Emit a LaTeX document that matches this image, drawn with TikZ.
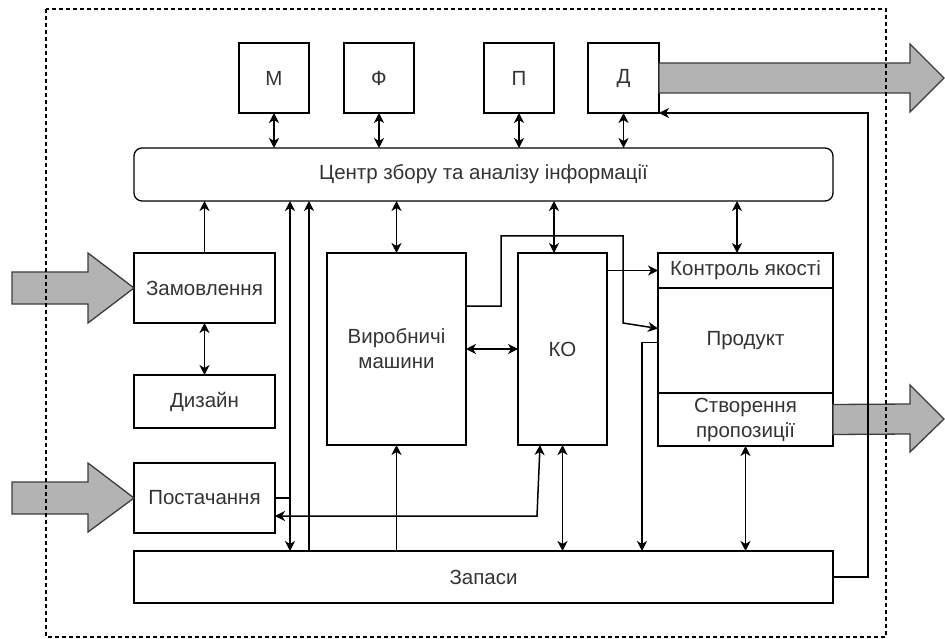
\documentclass[tikz,border=0pt]{standalone}
\usepackage{fontspec}
\setmainfont{Liberation Sans}
\usetikzlibrary{arrows.meta,calc}
\definecolor{txt}{RGB}{51,51,51}
\definecolor{bigfill}{RGB}{179,179,179}
\definecolor{bigdraw}{RGB}{60,60,60}
\begin{document}
\begin{tikzpicture}[x=1pt,y=-1pt,
  box/.style={draw, line width=1.3pt, inner sep=0pt, outer sep=0pt, text=txt,
    font=\fontsize{20.5}{25}\selectfont, align=center},
  tip/.tip={Stealth[length=10pt,width=10pt,inset=3pt]},
  conn/.style={line width=1.5pt, -tip},
  bi/.style={line width=1.5pt, tip-tip},
  bigarrow/.style={draw=bigdraw, fill=bigfill, line width=1.3pt, line join=miter},
  frame/.style={line width=1.1pt, dash pattern=on 4pt off 3pt}
]
\useasboundingbox (0,0) rectangle (945,639);

% helper positions
\coordinate (x290) at (290,0);
\coordinate (x309) at (309,0);
\coordinate (x554) at (554,0);
\coordinate (x737) at (737,0);
\coordinate (x623) at (623,236);
\coordinate (x501) at (501,0);
\coordinate (x868) at (868,0);

% top boxes
\node[box, minimum width=70pt, minimum height=70pt] (M) at (274,78) {М};
\node[box, minimum width=70pt, minimum height=70pt] (F) at (379,78) {Ф};
\node[box, minimum width=70pt, minimum height=70pt] (P) at (519,78) {П};
\node[box, minimum width=71pt, minimum height=70pt] (D) at (623.5,78) {Д};

% centre
\node[box, rounded corners=8pt, minimum width=699pt, minimum height=53pt] (cen) at (483.5,174.5)
  {Центр збору та аналізу інформації};

% left column
\node[box, minimum width=141pt, minimum height=70pt] (zam) at (204.5,288) {Замовлення};
\node[box, minimum width=141pt, minimum height=53pt] (diz) at (204.5,401.5) {Дизайн};
\node[box, minimum width=141pt, minimum height=70pt] (post) at (204.5,498) {Постачання};

% bottom
\node[box, minimum width=699pt, minimum height=52pt] (zap) at (483.5,577) {Запаси};

% middle
\node[box, minimum width=139pt, minimum height=192pt] (vyr) at (396.5,349) {Виробничі\\машини};
\node[box, minimum width=89pt, minimum height=192pt] (ko) at (562.5,349) {КО};

% product stack
\node[box, minimum width=175pt, minimum height=35pt] (kon) at (745.5,270.5) {Контроль якості};
\node[box, minimum width=175pt, minimum height=105pt] (prod) at (745.5,340.5) {Продукт};
\node[box, minimum width=175pt, minimum height=53pt] (stv) at (745.5,419.5) {Створення\\пропозиції};

% big arrows
\draw[bigarrow] ($(D.east)+(0,-15)$) -- (910,63) -- (910,44) -- (944,78) -- (910,112) -- (910,93) -- ($(D.east)+(0,15)$) -- cycle;
\draw[bigarrow] (12,272) -- (88,272) -- (88,253) -- (zam.west) -- (88,323) -- (88,304) -- (12,304) -- cycle;
\draw[bigarrow] (12,482) -- (88,482) -- (88,463) -- (post.west) -- (88,532) -- (88,514) -- (12,514) -- cycle;
\draw[bigarrow] ($(stv.east)+(0,-15)$) -- (910,404) -- (910,385) -- (944,419) -- (910,452) -- (910,434) -- ($(stv.east)+(0,15)$) -- cycle;

% frame
\draw[frame] (46,9) rectangle (886,637);

% top connectors
\draw[bi] (M.south) -- (M.south |- cen.north);
\draw[bi] (F.south) -- (F.south |- cen.north);
\draw[bi] (P.south) -- (P.south |- cen.north);
\draw[bi] (D.south) -- (D.south |- cen.north);
\draw[conn] (zap.east) -| (x868 |- D.south) -- (D.south east);

% left connectors
\draw[conn] (zam.north) -- (zam.north |- cen.south);
\draw[bi] (zam.south) -- (diz.north);
\draw[conn] (post.east) -| (x290 |- cen.south);
\draw[conn] (post.east) -| (x290 |- zap.north);
\draw[conn] (x309 |- zap.north) -- (x309 |- cen.south);

% middle connectors
\draw[bi] (cen.south -| vyr.north) -- (vyr.north);
\draw[bi] (x554 |- cen.south) -- (x554 |- ko.north);
\draw[bi] (x737 |- cen.south) -- (x737 |- kon.north);
\draw[bi] (vyr.east) -- (ko.west);
\draw[conn] ($(vyr.east)+(0,-43)$) -| (x501 |- x623) -- (x623) -- (623,323) -- ($(prod.west)+(0,-12)$);
\draw[conn] (ko.east |- kon.west) -- (kon.west);
\draw[conn] ($(prod.west)+(0,2)$) -| ($(zap.north -| prod.west)+(-16,0)$);
\draw[bi] (stv.south) -- (stv.south |- zap.north);
\draw[bi] (ko.south) -- (ko.south |- zap.north);
\draw[conn] (vyr.south |- zap.north) -- (vyr.south);
\draw[bi] ($(post.east)+(0,18)$) -- (537,516) -- ($(ko.south)+(-22.5,0)$);
\end{tikzpicture}
\end{document}
